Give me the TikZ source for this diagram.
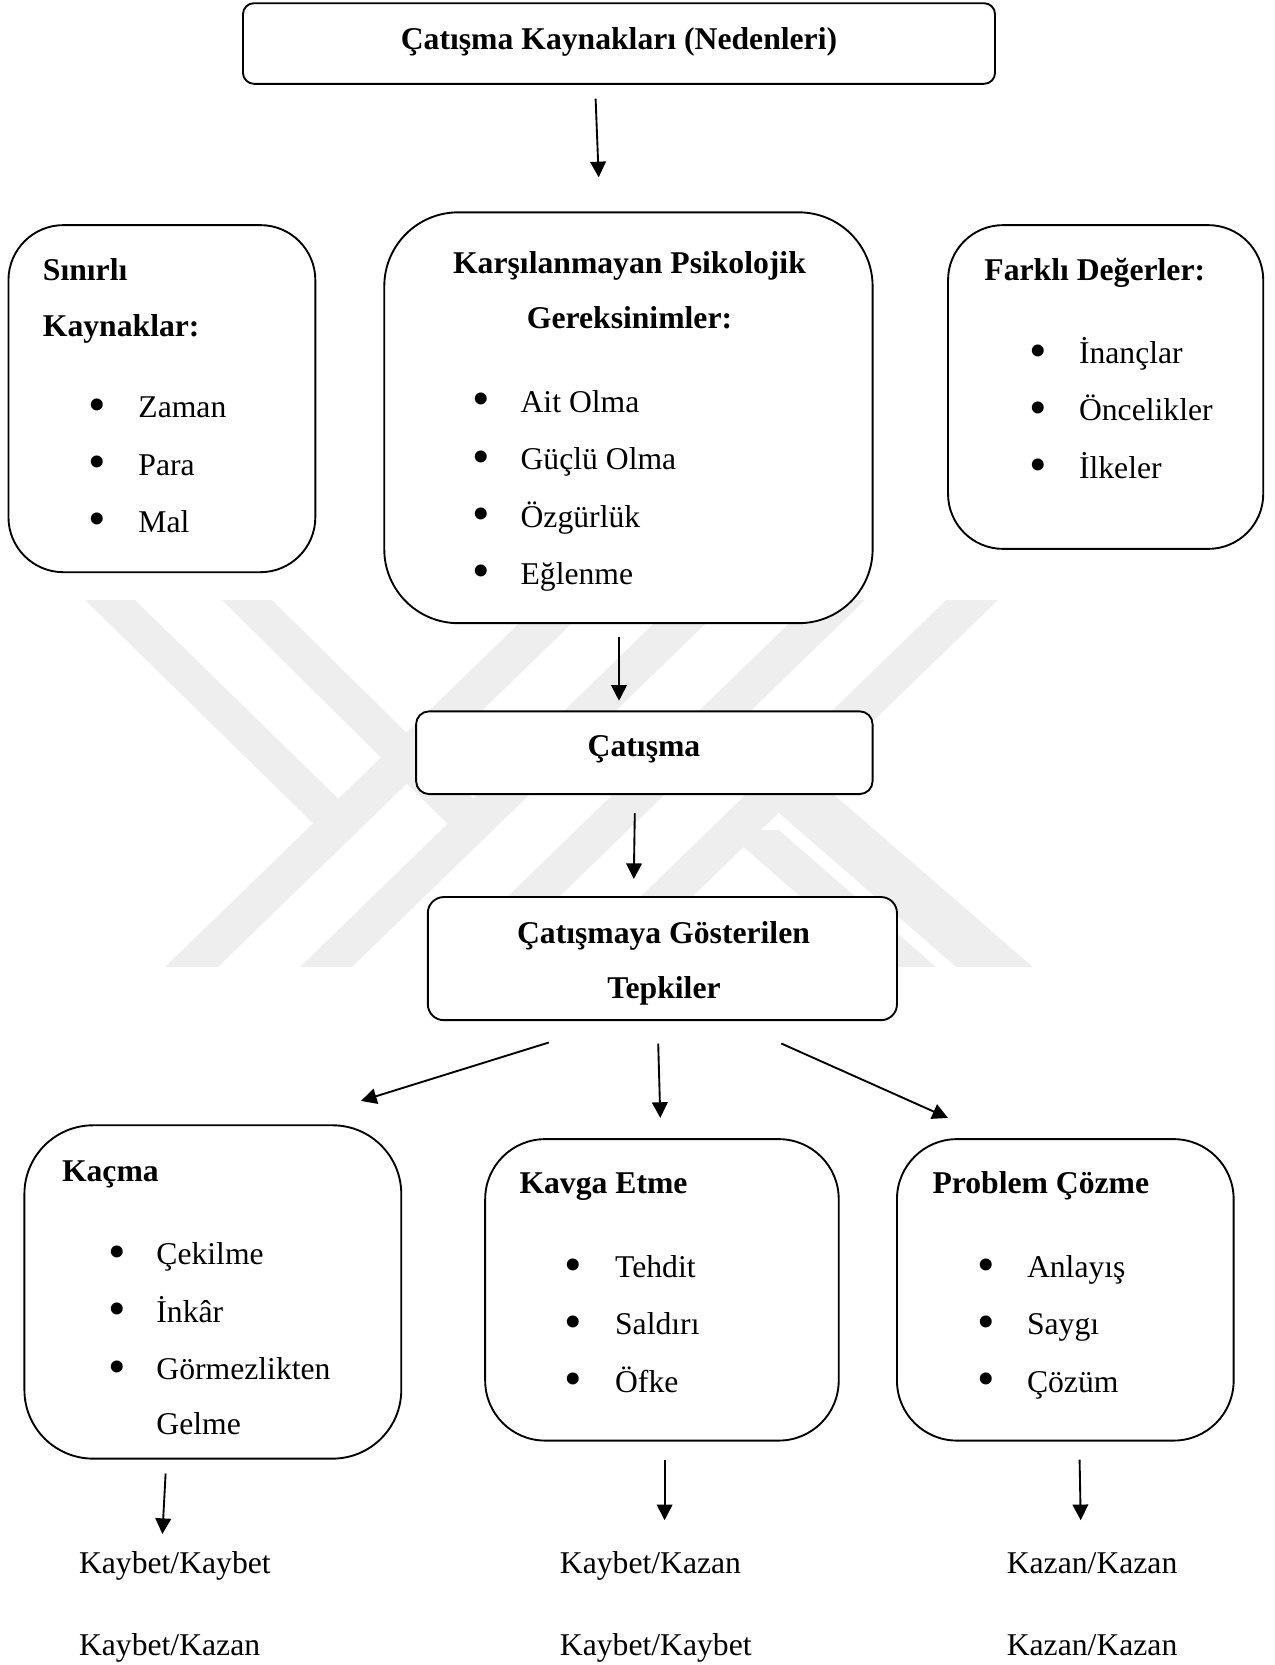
\documentclass[tikz,border=0pt]{standalone}
\usepackage{fontspec}
\setmainfont{Liberation Serif}
\usetikzlibrary{arrows.meta}
\definecolor{wm}{RGB}{238,238,238}
\begin{document}
\begin{tikzpicture}[x=0.48pt,y=-0.48pt,
  box/.style={draw=black,line width=0.9pt,fill=white,inner sep=0pt},
  txt/.style={inner sep=0pt,font=\fontsize{15.2}{18}\selectfont,text height=10.5pt,text depth=3pt},
  btxt/.style={txt,font=\fontsize{15.2}{18}\selectfont\bfseries},
  bul/.style={inner sep=0pt,anchor=center,font=\fontsize{24}{24}\selectfont},
  arr/.style={line width=0.9pt,-{Triangle[length=7.5pt,width=7.5pt]}}]
\useasboundingbox (0,0) rectangle (1275,1665);
% watermark
\fill[wm] (85,600)--(135,600)--(355,815)--(330,840)--cycle;
\fill[wm] (165,967)--(218,967)--(596,600)--(543,600)--cycle;
\fill[wm] (222,600)--(272,600)--(498,823)--(472,848)--cycle;
\fill[wm] (300,967)--(352,967)--(730,600)--(678,600)--cycle;
\fill[wm] (435,967)--(487,967)--(865,600)--(813,600)--cycle;
\fill[wm] (568,967)--(620,967)--(998,600)--(946,600)--cycle;
\fill[wm] (724,830)--(779,830)--(936,967)--(881,967)--cycle;
\fill[wm] (718,760)--(794,760)--(1033,967)--(956,967)--cycle;
% boxes
\node[box,rounded corners=5.3pt,minimum width=361pt,minimum height=38.7pt] (top) at (619,43.5) {};
\node[box,rounded corners=26.4pt,minimum width=147.3pt,minimum height=166.6pt] (sin) at (161.9,398.65) {};
\node[box,rounded corners=35.5pt,minimum width=234.4pt,minimum height=197.2pt] (kar) at (628.45,417.75) {};
\node[box,rounded corners=26.4pt,minimum width=151.3pt,minimum height=155.4pt] (far) at (1105.65,387) {};
\node[box,rounded corners=6.2pt,minimum width=219.1pt,minimum height=39.7pt] (cat) at (644.35,752.7) {};
\node[box,rounded corners=7.7pt,minimum width=225.2pt,minimum height=59.1pt] (tep) at (662.4,958.6) {};
\node[box,rounded corners=33pt,minimum width=180.9pt,minimum height=160pt] (kac) at (212.85,1291.95) {};
\node[box,rounded corners=28.8pt,minimum width=169.7pt,minimum height=144.7pt] (kav) at (661.95,1289.85) {};
\node[box,rounded corners=28.8pt,minimum width=161.6pt,minimum height=144.7pt] (pro) at (1065.3,1289.85) {};
% texts
\begin{scope}[yshift=-1.6pt]
\node[btxt] (ttop) at (619,38) {Çatışma Kaynakları (Nedenleri)};
\node[btxt,anchor=west] (tsin1) at (42.5,269.6) {Sınırlı};
\node[btxt,anchor=west] (tsin2) at (42.5,324.9) {Kaynaklar:};
\node[bul] (bs1) at (97.7,406.6) {•};
\node[bul] (bs2) at (97.7,463.9) {•};
\node[bul] (bs3) at (97.7,521.3) {•};
\node[txt,anchor=west] (is1) at (138,406.6) {Zaman};
\node[txt,anchor=west] (is2) at (138,463.9) {Para};
\node[txt,anchor=west] (is3) at (138,521.3) {Mal};
\node[btxt] (tkar1) at (629.5,262.2) {Karşılanmayan Psikolojik};
\node[btxt] (tkar2) at (629.5,317.4) {Gereksinimler:};
\node[bul] (bk1) at (481,401.3) {•};
\node[bul] (bk2) at (481,458.6) {•};
\node[bul] (bk3) at (481,516) {•};
\node[bul] (bk4) at (481,573.3) {•};
\node[txt,anchor=west] (ik1) at (520.2,401.3) {Ait Olma};
\node[txt,anchor=west] (ik2) at (520.2,458.6) {Güçlü Olma};
\node[txt,anchor=west] (ik3) at (520.2,516) {Özgürlük};
\node[txt,anchor=west] (ik4) at (520.2,573.3) {Eğlenme};
\node[btxt,anchor=west] (tfar) at (984,269.6) {Farklı Değerler:};
\node[bul] (bf1) at (1038.2,352.5) {•};
\node[bul] (bf2) at (1038.2,409.8) {•};
\node[bul] (bf3) at (1038.2,467.1) {•};
\node[txt,anchor=west] (if1) at (1078.6,352.5) {İnançlar};
\node[txt,anchor=west] (if2) at (1078.6,409.8) {Öncelikler};
\node[txt,anchor=west] (if3) at (1078.6,467.1) {İlkeler};
\node[btxt] (tcat) at (644,745.3) {Çatışma};
\node[btxt] (ttep1) at (663.5,932.1) {Çatışmaya Gösterilen};
\node[btxt] (ttep2) at (664,987.3) {Tepkiler};
\node[btxt,anchor=west] (tkac) at (61.6,1170) {Kaçma};
\node[bul] (bc1) at (116.8,1253.8) {•};
\node[bul] (bc2) at (116.8,1311.1) {•};
\node[bul] (bc3) at (116.8,1368.4) {•};
\node[txt,anchor=west] (ic1) at (156,1253.8) {Çekilme};
\node[txt,anchor=west] (ic2) at (156,1311.1) {İnkâr};
\node[txt,anchor=west] (ic3) at (156,1368.4) {Görmezlikten};
\node[txt,anchor=west] (ic4) at (156,1423.6) {Gelme};
\node[btxt,anchor=west] (tkav) at (519.1,1182.7) {Kavga Etme};
\node[bul] (bv1) at (573.3,1266.5) {•};
\node[bul] (bv2) at (573.3,1323.8) {•};
\node[bul] (bv3) at (573.3,1381.1) {•};
\node[txt,anchor=west] (iv1) at (614.7,1266.5) {Tehdit};
\node[txt,anchor=west] (iv2) at (614.7,1323.8) {Saldırı};
\node[txt,anchor=west] (iv3) at (614.7,1381.1) {Öfke};
\node[btxt,anchor=west] (tpro) at (932.1,1182.7) {Problem Çözme};
\node[bul] (bp1) at (986.2,1266.5) {•};
\node[bul] (bp2) at (986.2,1323.8) {•};
\node[bul] (bp3) at (986.2,1381.1) {•};
\node[txt,anchor=west] (ip1) at (1026.6,1266.5) {Anlayış};
\node[txt,anchor=west] (ip2) at (1026.6,1323.8) {Saygı};
\node[txt,anchor=west] (ip3) at (1026.6,1381.1) {Çözüm};
\node[txt,anchor=west] (r11) at (78.6,1562.6) {Kaybet/Kaybet};
\node[txt,anchor=west] (r12) at (78.6,1644.4) {Kaybet/Kazan};
\node[txt,anchor=west] (r21) at (559.5,1562.6) {Kaybet/Kazan};
\node[txt,anchor=west] (r22) at (559.5,1644.4) {Kaybet/Kaybet};
\node[txt,anchor=west] (r31) at (1006.4,1562.6) {Kazan/Kazan};
\node[txt,anchor=west] (r32) at (1006.4,1644.4) {Kazan/Kazan};
\end{scope}
% arrows
\coordinate (a1s) at (595.6,98.7);   \coordinate (a1e) at (598.7,177.3);
\coordinate (a2s) at (619,637);      \coordinate (a2e) at (619,700.7);
\coordinate (a3s) at (634.8,813.2);  \coordinate (a3e) at (633.8,879);
\coordinate (a4s) at (548.8,1042.5); \coordinate (a4e) at (361,1100.9);
\coordinate (a5s) at (658.2,1043.5); \coordinate (a5e) at (660.3,1117.9);
\coordinate (a6s) at (781.3,1043.5); \coordinate (a6e) at (948,1117.9);
\coordinate (a7s) at (165.6,1473.5); \coordinate (a7e) at (162.4,1534);
\coordinate (a8s) at (664.6,1459.7); \coordinate (a8e) at (664.6,1520.2);
\coordinate (a9s) at (1079.6,1459.7);\coordinate (a9e) at (1080.7,1520.2);
\foreach \i in {1,...,9} {\draw[arr] (a\i s) -- (a\i e);}
\end{tikzpicture}
\end{document}
